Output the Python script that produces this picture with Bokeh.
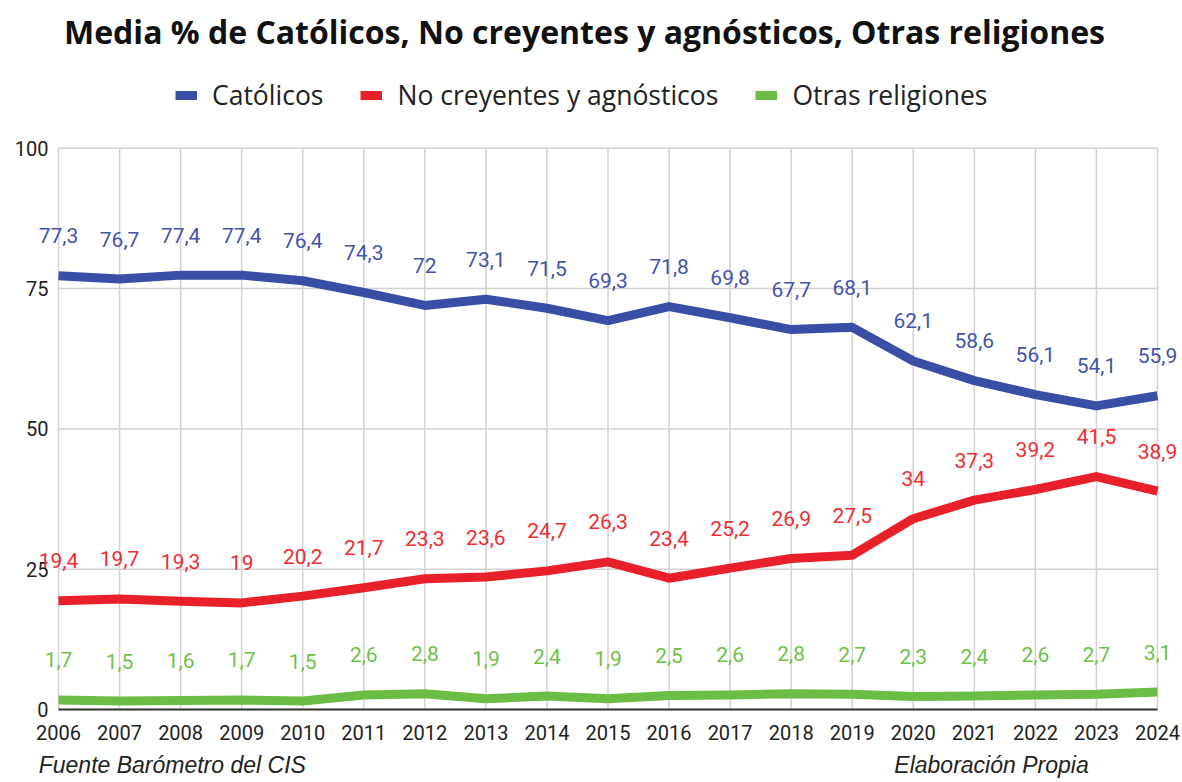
from bokeh.plotting import figure
from bokeh.models import (Range1d, FixedTicker, Legend, LegendItem, LabelSet, Label,
                          ColumnDataSource, LinearAxis)
from bokeh.core.properties import value
from bokeh.embed import file_html
from bokeh.resources import INLINE

years = list(range(2006, 2025))
catolicos = [77.3, 76.7, 77.4, 77.4, 76.4, 74.3, 72, 73.1, 71.5, 69.3, 71.8, 69.8,
             67.7, 68.1, 62.1, 58.6, 56.1, 54.1, 55.9]
no_creyentes = [19.4, 19.7, 19.3, 19, 20.2, 21.7, 23.3, 23.6, 24.7, 26.3, 23.4, 25.2,
                26.9, 27.5, 34, 37.3, 39.2, 41.5, 38.9]
otras = [1.7, 1.5, 1.6, 1.7, 1.5, 2.6, 2.8, 1.9, 2.4, 1.9, 2.5, 2.6, 2.8, 2.7, 2.3,
         2.4, 2.6, 2.7, 3.1]
y_ticks = [0, 25, 50, 75, 100]
series_names = ["Católicos", "No creyentes y agnósticos", "Otras religiones"]
footer_left = "Fuente Barómetro del  CIS"
footer_right = "Elaboración Propia"
title_text = "Media % de Católicos, No creyentes y agnósticos, Otras religiones"

line_colors = ["#3a4ea6", "#e8202a", "#6cbd45"]
label_colors = ["#4254aa", "#ee2d33", "#70c149"]

W, H = 1180, 780
FRAME_TOP = 0
FRAME_BOTTOM = 718
X_LEFT_PX, X_RIGHT_PX = 58, 1157      # where first / last year sit
Y_TOP_PX, Y_BOT_PX = 148, 710         # where 100 / 0 sit

def fmt(v):
    return ("%g" % v).replace(".", ",")

ppy = (X_RIGHT_PX - X_LEFT_PX) / (years[-1] - years[0])
ppu = (Y_BOT_PX - Y_TOP_PX) / (y_ticks[-1] - y_ticks[0])
x_range = Range1d(years[0] - X_LEFT_PX / ppy, years[-1] + (W - X_RIGHT_PX) / ppy)
y_range = Range1d(y_ticks[0] - (FRAME_BOTTOM - Y_BOT_PX) / ppu,
                  y_ticks[-1] + (Y_TOP_PX - FRAME_TOP) / ppu)

p = figure(width=W, height=H, output_backend="svg", toolbar_location=None,
           x_range=x_range, y_range=y_range,
           min_border_left=0, min_border_right=0, min_border_top=FRAME_TOP,
           min_border_bottom=H - FRAME_BOTTOM)
p.outline_line_color = None
p.xgrid.visible = False
p.ygrid.visible = False
p.yaxis.visible = False

# title (drawn inside the canvas area above the data)
p.add_layout(Label(x=584, y=FRAME_BOTTOM - 32, x_units="screen", y_units="screen",
                   text=title_text, text_align="center", text_baseline="alphabetic",
                   text_font="Open Sans", text_font_style="bold",
                   text_font_size="32px", text_color="#111111"))

# grid lines limited to the data extent
n = len(years)
p.segment(x0=years, y0=[y_ticks[0]] * n, x1=years, y1=[y_ticks[-1]] * n,
          line_color="#d2d2d2", line_width=1.5)
m = len(y_ticks)
p.segment(x0=[years[0]] * m, y0=y_ticks[1:] + [y_ticks[0]], x1=[years[-1]] * m,
          y1=y_ticks[1:] + [y_ticks[0]], line_color="#d2d2d2", line_width=1.5)
# axis line at zero
p.segment(x0=[years[0]], y0=[y_ticks[0]], x1=[years[-1]], y1=[y_ticks[0]],
          line_color="#333333", line_width=2)

# x axis (labels only)
xa = p.xaxis[0]
xa.ticker = FixedTicker(ticks=years)
xa.axis_line_color = None
xa.major_tick_line_color = None
xa.minor_tick_line_color = None
xa.major_label_text_font = "Roboto"
xa.major_label_text_font_size = "20px"
xa.major_label_text_color = "#222222"
xa.major_label_standoff = 1

# y tick labels
ysrc = ColumnDataSource(dict(x=[years[0]] * m, y=y_ticks, t=[str(t) for t in y_ticks]))
p.add_layout(LabelSet(x="x", y="y", text="t", source=ysrc, text_align="right",
                      text_baseline="middle", x_offset=-10,
                      text_font=value("Roboto"), text_font_size="20px",
                      text_color="#222222"))

items = []
for name, vals, lc, tc in zip(series_names, [catolicos, no_creyentes, otras],
                              line_colors, label_colors):
    src = ColumnDataSource(dict(x=years, y=vals, t=[fmt(v) for v in vals]))
    r = p.line("x", "y", source=src, line_color=lc, line_width=9,
               line_join="round", line_cap="butt")
    items.append(LegendItem(label=name, renderers=[r]))
    p.add_layout(LabelSet(x="x", y="y", text="t", source=src, text_align="center",
                          text_baseline="middle", y_offset=40, text_color=tc,
                          text_font=value("Roboto"), text_font_size="21px"))

legend = Legend(items=items, orientation="horizontal",
                location=(175, FRAME_BOTTOM - 114),
                glyph_width=22, glyph_height=20, label_standoff=15, spacing=37,
                padding=0, margin=0, border_line_color=None,
                background_fill_alpha=0, label_text_font="Open Sans",
                label_text_font_size="26.5px", label_text_color="#222222")
p.add_layout(legend, "center")

# footer line
p.extra_x_ranges = {"page": Range1d(0, W)}
foot = LinearAxis(x_range_name="page", ticker=FixedTicker(ticks=[175, 991]),
                  major_label_overrides={175: footer_left, 991: footer_right})
foot.axis_line_color = None
foot.major_tick_line_color = None
foot.minor_tick_line_color = None
foot.major_label_text_font = "Liberation Sans"
foot.major_label_text_font_style = "italic"
foot.major_label_text_font_size = "23px"
foot.major_label_text_color = "#222222"
foot.major_label_standoff = 3
p.add_layout(foot, "below")

open("out.html", "w").write(file_html(p, INLINE))
